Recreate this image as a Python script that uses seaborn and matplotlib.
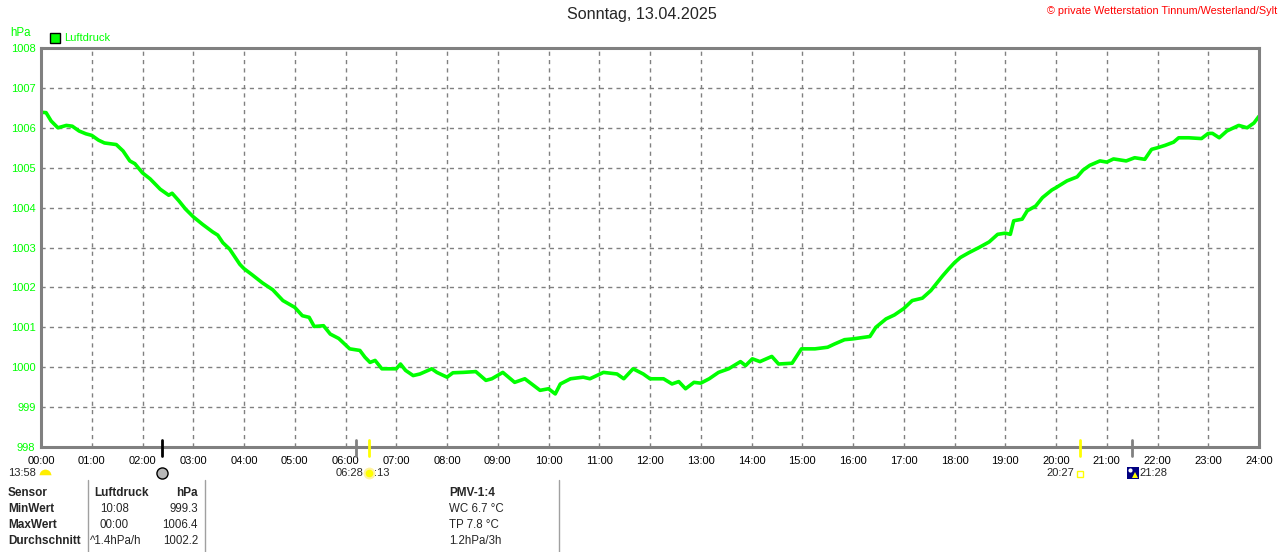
import matplotlib
matplotlib.use('Agg')
import matplotlib.pyplot as plt
import seaborn as sns
import pandas as pd
from matplotlib.patches import Rectangle
from matplotlib.lines import Line2D

# --- Data ---
times = ['00:00', '00:06', '00:12', '00:20', '00:30', '00:37', '00:45', '00:53',
         '01:00', '01:08', '01:15', '01:29', '01:37', '01:45', '01:51',
         '02:00', '02:09', '02:21', '02:31', '02:35', '02:43', '02:51',
         '03:00', '03:11', '03:23', '03:29', '03:35', '03:43', '03:55',
         '04:00', '04:10', '04:22', '04:34', '04:46',
         '05:00', '05:09', '05:17', '05:23', '05:34', '05:42', '05:52',
         '06:00', '06:05', '06:17', '06:23', '06:29', '06:35', '06:43',
         '07:00', '07:05', '07:11', '07:20', '07:28', '07:42', '07:48',
         '08:00', '08:07', '08:19', '08:34', '08:46', '08:53',
         '09:06', '09:20', '09:32', '09:40', '09:50',
         '10:00', '10:08', '10:14', '10:26', '10:41', '10:49',
         '11:05', '11:21', '11:29', '11:40', '11:52',
         '12:00', '12:16', '12:26', '12:34', '12:42', '12:52',
         '13:00', '13:10', '13:21', '13:33', '13:47', '13:53',
         '14:01', '14:10', '14:24', '14:32', '14:48', '14:59',
         '15:15', '15:30', '15:38', '15:50',
         '16:00', '16:20', '16:27', '16:39', '16:49',
         '17:00', '17:10', '17:22', '17:32', '17:38', '17:46', '17:53',
         '18:00', '18:07', '18:17', '18:29', '18:41', '18:51',
         '19:00', '19:06', '19:10', '19:20', '19:26', '19:36', '19:44', '19:55',
         '20:00', '20:13', '20:25', '20:32', '20:40', '20:52',
         '21:00', '21:08', '21:23', '21:33', '21:45', '21:53',
         '22:00', '22:09', '22:19', '22:25', '22:37', '22:52',
         '23:00', '23:05', '23:13', '23:22', '23:36', '23:46', '23:54', '24:00']
pressure = [1006.39, 1006.38, 1006.17, 1006.00, 1006.06, 1006.04, 1005.92, 1005.85,
            1005.81, 1005.69, 1005.62, 1005.58, 1005.42, 1005.17, 1005.10,
            1004.87, 1004.72, 1004.46, 1004.31, 1004.36, 1004.17, 1003.96,
            1003.77, 1003.58, 1003.39, 1003.31, 1003.12, 1002.96, 1002.58,
            1002.47, 1002.31, 1002.11, 1001.94, 1001.67,
            1001.50, 1001.29, 1001.25, 1001.02, 1001.04, 1000.83, 1000.72,
            1000.56, 1000.46, 1000.42, 1000.25, 1000.12, 1000.17, 999.96,
            999.96, 1000.08, 999.92, 999.79, 999.83, 999.96, 999.87,
            999.75, 999.86, 999.87, 999.89, 999.67, 999.71,
            999.87, 999.62, 999.71, 999.58, 999.42,
            999.46, 999.33, 999.58, 999.71, 999.75, 999.71,
            999.87, 999.83, 999.71, 999.96, 999.83,
            999.71, 999.71, 999.58, 999.64, 999.46, 999.62,
            999.60, 999.71, 999.87, 999.96, 1000.14, 1000.04,
            1000.21, 1000.14, 1000.27, 1000.08, 1000.10, 1000.46,
            1000.46, 1000.50, 1000.58, 1000.69,
            1000.71, 1000.77, 1001.00, 1001.21, 1001.31,
            1001.47, 1001.67, 1001.73, 1001.92, 1002.08, 1002.29, 1002.46,
            1002.62, 1002.75, 1002.87, 1003.00, 1003.14, 1003.33,
            1003.36, 1003.33, 1003.67, 1003.71, 1003.92, 1004.04, 1004.25, 1004.44,
            1004.50, 1004.67, 1004.77, 1004.94, 1005.06, 1005.17,
            1005.14, 1005.22, 1005.17, 1005.25, 1005.21, 1005.46,
            1005.50, 1005.56, 1005.64, 1005.75, 1005.75, 1005.73,
            1005.86, 1005.86, 1005.75, 1005.92, 1006.06, 1006.00, 1006.12, 1006.29]

hour_labels = ['%02d:00' % h for h in range(25)]
y_ticks = list(range(998, 1009))

# sun / moon markers on the time axis
event_times = ['02:23', '06:12', '06:28', '20:28', '21:30']
event_colors = ['black', '#808080', '#ffff00', '#ffff00', '#808080']

# stats table
table_rows = ['Sensor', 'MinWert', 'MaxWert', 'Durchschnitt']
table_time = ['Luftdruck', '10:08', '00:00', '^1.4hPa/h']
table_value = ['hPa', '999.3', '1006.4', '1002.2']
pmv_lines = ['PMV-1:4', 'WC 6.7 °C', 'TP 7.8 °C', '1.2hPa/3h']


def to_hours(t):
    h, m = t.split(':')
    return int(h) + int(m) / 60.0


df = pd.DataFrame({'hour': [to_hours(t) for t in times], 'hPa': pressure})
event_hours = [to_hours(t) for t in event_times]

# --- Figure ---
sns.set_style('white')
plt.rcParams['font.family'] = ['Liberation Sans', 'DejaVu Sans']

W, H = 1280, 552
fig = plt.figure(figsize=(12.8, 5.52), dpi=100)


def fx(x):
    return x / W


def fy(y):
    return 1 - y / H


ax = fig.add_axes([fx(41), fy(447), 1218 / W, 399 / H])
GREEN = '#00ff00'
GRAY = '#808080'

sns.lineplot(data=df, x='hour', y='hPa', color=GREEN, linewidth=2.6, ax=ax, legend=False)

ax.set_xlim(0, 24)
ax.set_ylim(998, 1008)
ax.set_xticks(range(25))
ax.set_xticklabels(hour_labels)
ax.set_yticks(y_ticks)
ax.set_xlabel('')
ax.set_ylabel('')
ax.grid(True, color=GRAY, linestyle=(0, (3, 3)), linewidth=1)
for s in ax.spines.values():
    s.set_color(GRAY)
    s.set_linewidth(2.2)
ax.tick_params(axis='x', length=0, pad=6.5, labelsize=8, labelcolor='black')
ax.tick_params(axis='y', length=3, width=1, color=GRAY, pad=1, labelsize=8, labelcolor=GREEN)

for h, c in zip(event_hours, event_colors):
    ax.axvline(h, ymin=-0.023, ymax=0.018, color=c, linewidth=2, clip_on=False, zorder=5)

# header texts
fig.text(fx(642), fy(15), 'Sonntag, 13.04.2025', ha='center', va='center', fontsize=11.6)
fig.text(fx(1277), fy(11), '© private Wetterstation Tinnum/Westerland/Sylt',
         ha='right', va='center', fontsize=7.8, color='red')
fig.text(fx(10), fy(33), 'hPa', ha='left', va='center', fontsize=8.3, color=GREEN)
fig.patches.append(Rectangle((fx(50), fy(43)), 10 / W, 10 / H, transform=fig.transFigure,
                             facecolor=GREEN, edgecolor='black', linewidth=1))
fig.text(fx(64), fy(38), 'Luftdruck', ha='left', va='center', fontsize=8, color=GREEN)

# sun / moon icons and times under the axis
def icon(x, y, **kw):
    fig.add_artist(Line2D([fx(x)], [fy(y)], transform=fig.transFigure, linestyle='none', **kw))


fig.text(fx(8), fy(473), '13:58', ha='left', va='center', fontsize=8)
icon(45, 475, marker='o', fillstyle='top', markersize=8.5, markerfacecolor='#ffee00',
     markerfacecoloralt='white', markeredgewidth=0)
icon(162, 473, marker='o', markersize=8, markerfacecolor='#b8b8b8', markeredgecolor='black',
     markeredgewidth=1)
fig.text(fx(364), fy(473), '06:28', ha='right', va='center', fontsize=8)
icon(369, 473, marker='o', markersize=7, markerfacecolor='#ffff00', markeredgecolor='#fff3a0',
     markeredgewidth=1.5)
fig.text(fx(374), fy(473), ':13', ha='left', va='center', fontsize=8)
fig.text(fx(1074), fy(473), '20:27', ha='right', va='center', fontsize=8)
icon(1080, 474, marker='s', markersize=4.5, markerfacecolor='white', markeredgecolor='#ffff00',
     markeredgewidth=1)
icon(1133, 473, marker='s', markersize=8, markerfacecolor='#000080', markeredgewidth=0)
icon(1130, 470, marker='o', markersize=3, markerfacecolor='white', markeredgewidth=0)
icon(1135, 475, marker='^', markersize=4, markerfacecolor='#ffff00', markeredgewidth=0)
fig.text(fx(1139), fy(473), '21:28', ha='left', va='center', fontsize=8)

# table
row_y = [493, 509, 525, 541]
for i, (lab, t, v, p) in enumerate(zip(table_rows, table_time, table_value, pmv_lines)):
    y = fy(row_y[i])
    fig.text(fx(8), y, lab, ha='left', va='center', fontsize=8.5, fontweight='bold')
    if i == 0:
        fig.text(fx(94), y, t, ha='left', va='center', fontsize=8.5, fontweight='bold')
        fig.text(fx(198), y, v, ha='right', va='center', fontsize=8.5, fontweight='bold')
        fig.text(fx(449), y, p, ha='left', va='center', fontsize=8.5, fontweight='bold')
    else:
        tx = 90 if t.startswith('^') else 100
        fig.text(fx(tx), y, t, ha='left', va='center', fontsize=8.3)
        fig.text(fx(198), y, v, ha='right', va='center', fontsize=8.3)
        fig.text(fx(449), y, p, ha='left', va='center', fontsize=8.3)

for x in [88, 205, 559]:
    fig.add_artist(Line2D([fx(x), fx(x)], [fy(480), fy(552)], transform=fig.transFigure,
                          color='#a0a0a0', linewidth=1))

fig.savefig('out.png', dpi=100)
